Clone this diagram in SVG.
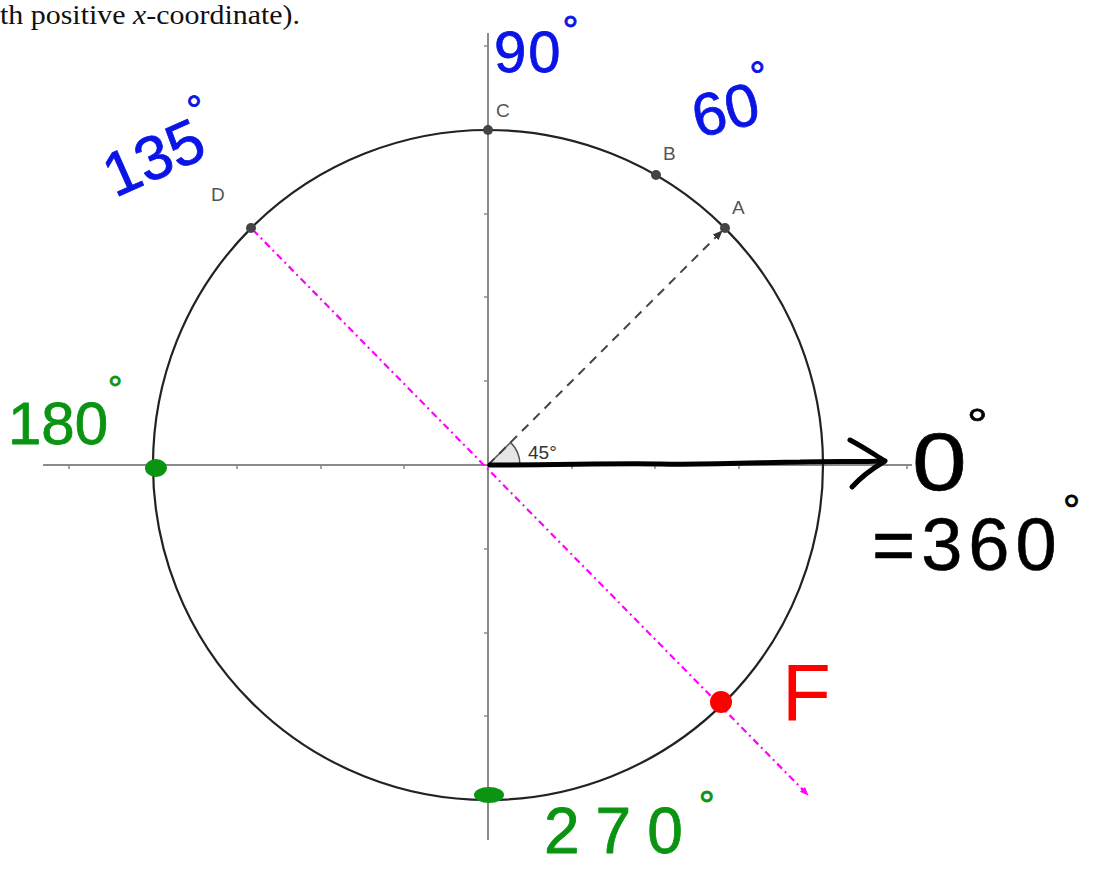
<svg xmlns="http://www.w3.org/2000/svg" width="1099" height="870" viewBox="0 0 1099 870">
<defs>
<style>
.axis{stroke:#8a8a8a;stroke-width:2;fill:none}
.tick{stroke:#8a8a8a;stroke-width:1.5}
.pt{fill:#444}
.lbl{font-family:"Liberation Sans",Arial,sans-serif;font-size:19px;fill:#555}
.hand{font-family:"Liberation Sans",Arial,sans-serif;stroke-linejoin:round;stroke-linecap:round}
.blue{fill:#0a14e6;stroke:#0a14e6;stroke-width:0.8}
.green{fill:#0a9412;stroke:#0a9412;stroke-width:0.8}
.black{fill:#000;stroke:#000;stroke-width:0.6}
</style>
<marker id="ah" viewBox="0 0 10 10" refX="9" refY="5" markerWidth="5" markerHeight="5" orient="auto">
<path d="M0,1 L10,5 L0,9 Z" fill="#333"/>
</marker>
<marker id="mh" viewBox="0 0 10 10" refX="9" refY="5" markerWidth="4" markerHeight="4" orient="auto">
<path d="M0,1 L10,5 L0,9 Z" fill="#f0f"/>
</marker>
</defs>
<rect width="1099" height="870" fill="#fff"/>
<text x="0" y="24" font-family="'Liberation Serif','Times New Roman',serif" font-size="27" fill="#111" textLength="300" lengthAdjust="spacingAndGlyphs">th positive <tspan font-style="italic">x</tspan>-coordinate).</text>

<g id="axes">
<line class="axis" x1="43" y1="465" x2="912" y2="465"/>
<line class="axis" x1="488" y1="33" x2="488" y2="840"/>
<g class="tick">
<line x1="69" y1="465" x2="69" y2="469"/><line x1="237" y1="465" x2="237" y2="469"/><line x1="321" y1="465" x2="321" y2="469"/><line x1="404" y1="465" x2="404" y2="469"/><line x1="572" y1="465" x2="572" y2="469"/><line x1="655" y1="465" x2="655" y2="469"/><line x1="739" y1="465" x2="739" y2="469"/><line x1="907" y1="465" x2="907" y2="469"/>
<line x1="484" y1="46" x2="488" y2="46"/><line x1="484" y1="214" x2="488" y2="214"/><line x1="484" y1="297" x2="488" y2="297"/><line x1="484" y1="381" x2="488" y2="381"/><line x1="484" y1="549" x2="488" y2="549"/><line x1="484" y1="633" x2="488" y2="633"/><line x1="484" y1="716" x2="488" y2="716"/>
</g>
</g>

<g id="circle">
<circle cx="488" cy="465" r="335" fill="none" stroke="#222" stroke-width="2.2"/>
</g>

<g id="angle">
<path d="M488,465 L520,465 A32,32 0 0 0 510.6,442.4 Z" fill="#e6e6e6" stroke="#555" stroke-width="1.5"/>
<text x="528" y="459" font-family="'Liberation Sans',Arial,sans-serif" font-size="19" fill="#333">45°</text>
</g>

<g id="connectors">
<line x1="488" y1="465" x2="722" y2="231" stroke="#444" stroke-width="2" stroke-dasharray="9,7" marker-end="url(#ah)"/>
<line x1="253" y1="230" x2="808" y2="795" stroke="#f0f" stroke-width="2.2" stroke-dasharray="7,4,2,4" marker-end="url(#mh)"/>
<path d="M490,465 C560,465 620,463 660,464 C720,465 770,462 800,462 C830,461 860,462 884,461" fill="none" stroke="#000" stroke-width="5" stroke-linecap="round"/>
<path d="M850,440 C865,448 875,455 885,461 C870,470 860,478 852,487" fill="none" stroke="#000" stroke-width="5" stroke-linecap="round" stroke-linejoin="round"/>
</g>

<g id="pointA"><circle class="pt" cx="725" cy="228" r="5"/><text class="lbl" x="732" y="214">A</text></g>
<g id="pointB"><circle class="pt" cx="656" cy="175" r="5"/><text class="lbl" x="663" y="160">B</text></g>
<g id="pointC"><circle class="pt" cx="488" cy="130" r="5"/><text class="lbl" x="496" y="117">C</text></g>
<g id="pointD"><circle class="pt" cx="251" cy="228" r="5"/><text class="lbl" x="211" y="201">D</text></g>

<g id="pointF">
<circle cx="721" cy="702" r="11" fill="#f00"/>
<text class="hand" x="782" y="720" font-size="80" fill="#f00">F</text>
</g>

<g id="dot180"><ellipse cx="156" cy="468" rx="11" ry="9" fill="#0a9412"/></g>
<g id="dot270"><ellipse cx="489" cy="795" rx="15" ry="8" fill="#0a9412"/></g>

<g id="labels">
<text class="hand blue" x="494" y="72" font-size="58" letter-spacing="2">90<tspan dy="-28" font-size="40">°</tspan></text>
<text class="hand blue" x="698" y="138" font-size="60" transform="rotate(-14 698 138)">60<tspan dy="-32" font-size="40">°</tspan></text>
<text class="hand blue" x="115" y="198" font-size="62" transform="rotate(-24 115 198)">135<tspan dy="-34" font-size="40">°</tspan></text>
<text class="hand green" x="8" y="444" font-size="60">180<tspan dy="-42" font-size="36">°</tspan></text>
<text class="hand green" x="544" y="853" font-size="64" letter-spacing="16">270<tspan dy="-34" font-size="40">°</tspan></text>
<text class="hand black" x="912" y="490" font-size="82" transform="translate(912 490) scale(1.2 1) translate(-912 -490)">0<tspan dy="-50" font-size="44">°</tspan></text>
<text class="hand black" x="872" y="570" font-size="74" letter-spacing="6">=360<tspan dy="-44" font-size="44">°</tspan></text>
</g>
</svg>
